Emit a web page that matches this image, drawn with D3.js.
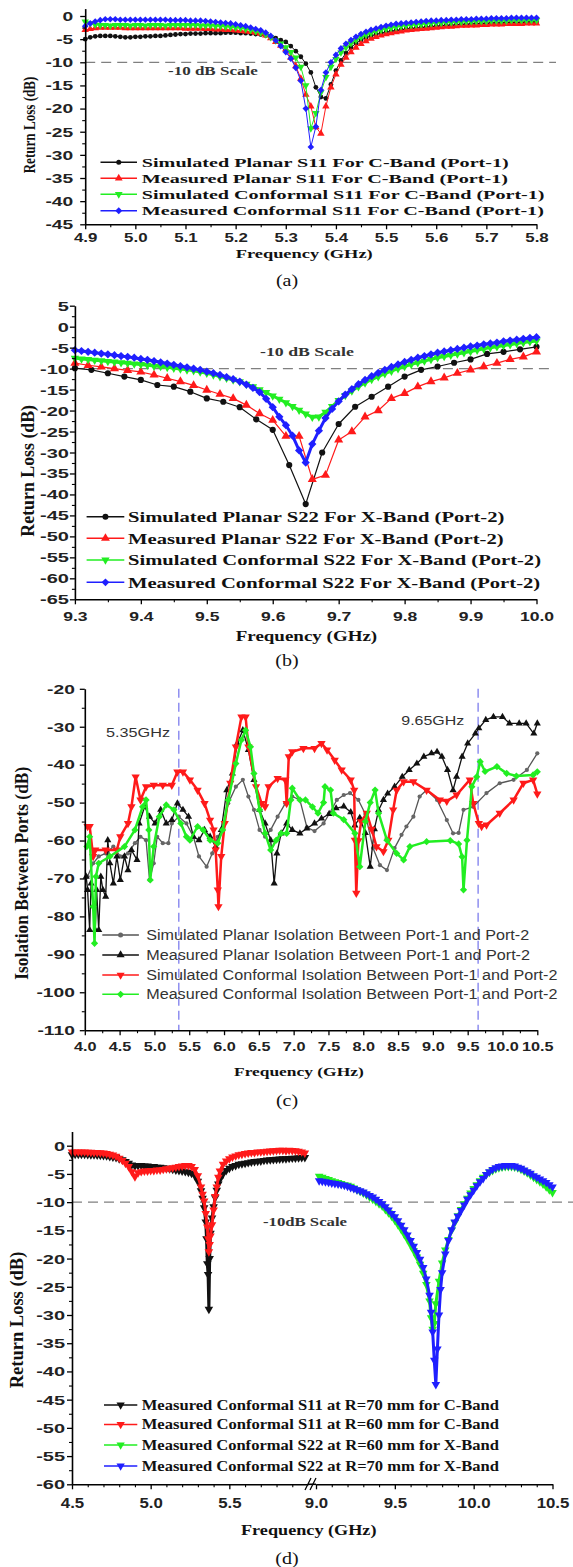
<!DOCTYPE html>
<html><head><meta charset="utf-8">
<script src="https://cdn.jsdelivr.net/npm/d3@7"></script>
<style>body{margin:0;background:#fff}</style>
</head><body>
<script>
// ---------------- DATA ----------------
// Panel (a): C-band S11, sweep 4.90..5.80 GHz step 0.01
const fA = d3.range(490, 581).map(v => v / 100);
const aSimPlanar = [-5.0,-4.6,-4.4,-4.3,-4.3,-4.3,-4.4,-4.5,-4.6,-4.6,
 -4.5,-4.5,-4.4,-4.4,-4.3,-4.3,-4.2,-4.1,-4.0,-3.9,
 -3.9,-3.8,-3.8,-3.8,-3.7,-3.7,-3.7,-3.7,-3.6,-3.6,
 -3.6,-3.7,-3.7,-3.8,-3.9,-4.0,-4.2,-4.5,-4.8,-5.2,
 -5.6,-6.5,-7.6,-8.8,-10.3,-12.2,-15.4,-17.5,-17.8,-14.8,
 -11.8,-9.6,-8.0,-6.8,-5.9,-5.2,-4.7,-4.3,-4.0,-3.7,
 -3.5,-3.3,-3.1,-3.0,-2.8,-2.7,-2.6,-2.5,-2.4,-2.3,
 -2.2,-2.1,-2.0,-2.0,-1.9,-1.8,-1.8,-1.7,-1.7,-1.6,
 -1.6,-1.5,-1.5,-1.5,-1.4,-1.4,-1.4,-1.4,-1.3,-1.3,-1.3];
const aMeasPlanar = [-3.0,-2.8,-2.6,-2.5,-2.5,-2.5,-2.5,-2.5,-2.6,-2.6,
 -2.6,-2.6,-2.6,-2.6,-2.6,-2.6,-2.6,-2.6,-2.6,-2.6,
 -2.7,-2.7,-2.7,-2.7,-2.8,-2.8,-2.9,-2.9,-3.0,-3.0,
 -3.1,-3.2,-3.3,-3.4,-3.6,-3.8,-4.2,-4.8,-5.6,-6.4,
 -7.2,-9.0,-10.8,-13.5,-17.0,-19.5,-24.0,-25.4,-19.5,-15.4,
 -12.6,-10.5,-9.0,-7.8,-6.8,-6.0,-5.4,-4.9,-4.5,-4.2,
 -3.9,-3.7,-3.5,-3.3,-3.1,-3.0,-2.9,-2.8,-2.7,-2.6,
 -2.5,-2.4,-2.3,-2.3,-2.2,-2.1,-2.1,-2.0,-2.0,-1.9,
 -1.9,-1.8,-1.8,-1.8,-1.7,-1.7,-1.7,-1.7,-1.6,-1.6,-1.6];
const aSimConf = [-1.2,-1.6,-1.9,-2.0,-2.0,-2.1,-2.0,-2.0,-2.0,-2.1,
 -2.0,-2.0,-2.1,-2.0,-2.0,-2.0,-2.1,-2.0,-2.0,-2.0,
 -2.0,-2.0,-2.0,-2.1,-2.1,-2.1,-2.2,-2.2,-2.3,-2.4,
 -2.5,-2.6,-2.8,-3.0,-3.3,-3.6,-4.0,-4.6,-5.3,-6.0,
 -6.8,-7.8,-9.0,-11.0,-15.0,-24.3,-21.0,-16.5,-13.2,-11.0,
 -9.3,-7.9,-6.8,-5.9,-5.2,-4.6,-4.1,-3.7,-3.3,-3.0,
 -2.8,-2.6,-2.4,-2.2,-2.1,-2.0,-1.9,-1.8,-1.7,-1.6,
 -1.5,-1.5,-1.4,-1.4,-1.3,-1.3,-1.2,-1.2,-1.1,-1.1,
 -1.1,-1.0,-1.0,-1.0,-1.0,-0.9,-0.9,-0.9,-0.9,-0.9,-0.9];
const aMeasConf = [-2.2,-1.6,-1.2,-0.9,-0.7,-0.7,-0.7,-0.8,-0.8,-0.8,
 -0.8,-0.8,-0.8,-0.8,-0.8,-0.8,-0.8,-0.9,-0.9,-0.9,
 -0.9,-1.0,-1.0,-1.0,-1.1,-1.2,-1.3,-1.4,-1.5,-1.6,
 -1.8,-2.0,-2.2,-2.5,-2.8,-3.1,-3.6,-4.3,-5.3,-6.5,
 -7.8,-9.2,-11.2,-14.0,-20.0,-28.3,-23.9,-16.0,-12.2,-10.0,
 -8.4,-7.0,-6.0,-5.2,-4.5,-3.9,-3.4,-3.0,-2.7,-2.4,
 -2.1,-1.9,-1.7,-1.6,-1.5,-1.4,-1.3,-1.2,-1.1,-1.0,
 -1.0,-0.9,-0.9,-0.8,-0.8,-0.7,-0.7,-0.7,-0.6,-0.6,
 -0.6,-0.5,-0.5,-0.5,-0.5,-0.4,-0.4,-0.4,-0.4,-0.4,-0.4];
const aLabels = ["Simulated Planar S11 For C-Band (Port-1)","Measured Planar S11 For C-Band (Port-1)",
 "Simulated Conformal S11 For C-Band (Port-1)","Measured Conformal S11 For C-Band (Port-1)"];

// Panel (b): X-band S22
const bSimPlanar = [[9.3,-9.9],[9.325,-10.3],[9.35,-11.1],[9.375,-11.9],[9.4,-12.7],[9.425,-13.9],[9.45,-14.3],[9.475,-15.5],
 [9.5,-17.1],[9.525,-17.9],[9.55,-19.2],[9.575,-22.1],[9.6,-24.6],[9.625,-33.0],[9.65,-42.3],[9.675,-30.0],[9.7,-23.2],
 [9.725,-19.1],[9.75,-16.7],[9.775,-14.3],[9.8,-11.9],[9.825,-10.3],[9.85,-9.5],[9.875,-8.6],[9.9,-7.8],[9.925,-6.5],
 [9.95,-6.0],[9.975,-5.4],[10.0,-4.8]];
const bMeasPlanar = [[9.30,-8.7],[9.32,-9.2],[9.34,-9.6],[9.36,-10.0],[9.38,-10.4],[9.40,-10.8],[9.42,-11.5],[9.44,-12.3],
 [9.46,-13.1],[9.48,-14.0],[9.50,-15.1],[9.52,-16.1],[9.54,-17.1],[9.56,-18.7],[9.58,-20.7],[9.60,-22.3],[9.62,-26.1],
 [9.64,-26.1],[9.66,-36.4],[9.68,-35.4],[9.70,-27.0],[9.72,-25.0],[9.74,-21.5],[9.76,-20.0],[9.78,-17.1],[9.80,-15.9],
 [9.82,-14.3],[9.84,-13.1],[9.86,-12.2],[9.88,-11.1],[9.90,-10.3],[9.92,-9.5],[9.94,-8.7],[9.96,-7.8],[9.98,-7.2],[10.00,-6.0]];
const fB = d3.range(930, 1001).map(v => v / 100);
const bSimConf = [-7.5,-7.7,-7.8,-8.0,-8.1,-8.3,-8.4,-8.6,-8.7,-8.9,
 -9.0,-9.2,-9.4,-9.5,-9.7,-9.9,-10.1,-10.3,-10.5,-10.8,
 -11.1,-11.5,-11.9,-12.3,-12.7,-13.1,-13.7,-14.3,-15.0,-15.7,
 -16.5,-17.3,-18.1,-19.0,-19.9,-20.8,-21.6,-21.5,-20.4,-19.0,
 -17.6,-16.4,-15.3,-14.3,-13.4,-12.6,-11.9,-11.2,-10.6,-10.0,
 -9.5,-9.0,-8.6,-8.2,-7.8,-7.4,-7.1,-6.8,-6.5,-6.2,
 -5.9,-5.6,-5.3,-5.0,-4.8,-4.5,-4.3,-4.0,-3.8,-3.6,-3.4];
const bMeasConf = [-5.6,-5.8,-6.0,-6.2,-6.4,-6.6,-6.8,-7.0,-7.2,-7.4,
 -7.7,-7.9,-8.2,-8.5,-8.8,-9.1,-9.4,-9.7,-10.0,-10.3,
 -10.7,-11.1,-11.5,-12.0,-12.5,-13.1,-13.8,-14.6,-15.6,-17.2,
 -19.2,-21.5,-23.5,-26.0,-29.5,-32.4,-28.0,-24.8,-21.8,-19.6,
 -17.8,-16.2,-14.9,-13.7,-12.7,-11.8,-11.0,-10.3,-9.6,-9.0,
 -8.4,-7.9,-7.4,-7.0,-6.6,-6.2,-5.9,-5.6,-5.3,-5.0,
 -4.7,-4.5,-4.2,-4.0,-3.8,-3.5,-3.3,-3.1,-2.9,-2.7,-2.5];
const bLabels = ["Simulated Planar S22 For X-Band (Port-2)","Measured Planar S22 For X-Band (Port-2)",
 "Simulated Conformal S22 For X-Band (Port-2)","Measured Conformal S22 For X-Band (Port-2)"];

// Panel (c): isolation
const cSimPlanar = [[4.04,-69.5],[4.12,-66.0],[4.20,-64.2],[4.30,-63.4],[4.41,-61.6],[4.51,-64.2],[4.62,-63.4],[4.72,-60.7],
 [4.80,-59.0],[4.88,-59.9],[4.93,-70.4],[4.99,-66.0],[5.04,-59.0],[5.12,-60.7],[5.20,-60.7],[5.25,-55.5],[5.35,-53.7],
 [5.46,-55.5],[5.56,-59.0],[5.64,-64.2],[5.75,-66.9],[5.83,-63.4],[5.91,-59.0],[5.98,-57.2],[6.06,-50.2],[6.17,-45.8],
 [6.27,-44.0],[6.35,-48.4],[6.43,-51.9],[6.51,-57.2],[6.59,-59.0],[6.67,-57.2],[6.77,-53.7],[6.88,-50.2],[6.98,-48.4],
 [7.09,-49.3],[7.19,-56.5],[7.30,-57.5],[7.43,-55.5],[7.51,-53.0],[7.62,-49.3],[7.72,-48.0],[7.81,-47.5],[7.93,-49.3],
 [8.03,-53.0],[8.14,-62.0],[8.24,-66.5],[8.34,-67.8],[8.45,-62.0],[8.55,-58.5],[8.62,-56.3],[8.72,-53.7],[8.81,-48.4],
 [8.91,-46.7],[9.06,-49.3],[9.20,-54.6],[9.29,-58.1],[9.37,-58.0],[9.44,-51.9],[9.58,-51.1],[9.77,-47.5],[9.96,-44.9],
 [10.16,-44.0],[10.35,-41.4],[10.50,-37.0]];
const cMeasPlanar = [[4.02,-69.5],[4.04,-73.0],[4.07,-83.6],[4.09,-71.3],[4.15,-83.6],[4.17,-73.0],[4.20,-83.6],[4.23,-69.5],
 [4.26,-73.0],[4.30,-74.8],[4.33,-59.9],[4.36,-66.0],[4.41,-71.3],[4.46,-64.2],[4.51,-70.4],[4.57,-64.2],[4.62,-67.8],
 [4.67,-62.5],[4.75,-65.1],[4.78,-55.5],[4.86,-51.1],[4.93,-53.7],[5.01,-55.5],[5.09,-51.9],[5.17,-55.5],[5.25,-54.6],
 [5.33,-50.2],[5.41,-51.9],[5.49,-53.7],[5.56,-59.0],[5.64,-59.9],[5.72,-57.2],[5.80,-59.0],[5.88,-61.6],[5.96,-57.2],
 [6.04,-46.7],[6.12,-42.3],[6.19,-34.4],[6.27,-30.9],[6.35,-36.1],[6.43,-44.0],[6.51,-51.9],[6.59,-55.5],[6.67,-59.9],
 [6.72,-71.3],[6.76,-63.4],[6.82,-58.1],[6.90,-55.5],[6.98,-57.2],[7.09,-58.1],[7.19,-56.8],[7.30,-55.5],[7.40,-54.2],
 [7.51,-53.0],[7.61,-51.5],[7.72,-51.0],[7.82,-52.5],[7.88,-56.0],[7.95,-54.0],[8.03,-58.0],[8.10,-66.9],[8.16,-57.0],
 [8.22,-52.0],[8.29,-49.3],[8.35,-47.6],[8.45,-45.8],[8.56,-43.2],[8.66,-41.4],[8.77,-39.7],[8.87,-37.9],[8.98,-37.0],
 [9.06,-36.6],[9.13,-37.9],[9.21,-41.4],[9.29,-46.7],[9.34,-43.2],[9.42,-37.9],[9.50,-34.4],[9.61,-31.8],[9.66,-30.4],
 [9.76,-28.2],[9.87,-27.4],[10.00,-27.4],[10.10,-29.1],[10.24,-29.1],[10.34,-29.1],[10.45,-31.8],[10.50,-29.1]];
const cSimConf = [[4.04,-56.3],[4.07,-56.3],[4.12,-64.2],[4.15,-62.5],[4.30,-62.5],[4.46,-62.5],[4.51,-59.0],[4.62,-55.5],
 [4.67,-51.1],[4.73,-43.2],[4.80,-49.3],[4.88,-45.8],[4.99,-45.4],[5.12,-45.4],[5.25,-45.4],[5.33,-41.9],[5.41,-41.9],
 [5.51,-44.0],[5.62,-46.7],[5.72,-50.2],[5.80,-54.6],[5.85,-57.2],[5.88,-62.5],[5.91,-73.0],[5.92,-77.4],[5.96,-64.2],
 [6.01,-55.5],[6.09,-44.9],[6.17,-35.3],[6.25,-27.4],[6.31,-27.4],[6.35,-35.3],[6.46,-45.8],[6.54,-50.2],[6.59,-51.1],
 [6.64,-45.8],[6.77,-43.6],[6.88,-44.0],[6.90,-50.2],[6.93,-37.9],[6.98,-36.6],[7.14,-35.7],[7.30,-35.7],[7.40,-34.4],
 [7.48,-36.1],[7.59,-38.8],[7.69,-41.4],[7.82,-44.0],[7.87,-46.7],[7.88,-59.9],[7.90,-73.9],[7.93,-60.0],[7.97,-55.0],
 [8.05,-52.8],[8.12,-57.0],[8.19,-61.6],[8.29,-62.9],[8.36,-59.9],[8.43,-51.9],[8.48,-46.7],[8.58,-44.5],[8.72,-44.5],
 [8.91,-46.7],[9.10,-49.3],[9.20,-49.6],[9.34,-48.0],[9.53,-44.0],[9.58,-50.2],[9.66,-55.5],[9.70,-56.3],[9.77,-55.9],
 [9.96,-52.8],[10.16,-49.3],[10.30,-44.9],[10.44,-44.0],[10.50,-47.7]];
const cMeasConf = [[4.03,-61.6],[4.07,-59.0],[4.12,-77.4],[4.14,-87.1],[4.16,-69.5],[4.20,-66.0],[4.36,-64.2],[4.57,-61.6],
 [4.72,-57.2],[4.83,-51.1],[4.88,-49.3],[4.92,-57.2],[4.94,-70.4],[4.99,-61.6],[5.07,-53.7],[5.17,-50.6],[5.28,-51.9],
 [5.38,-55.5],[5.46,-59.0],[5.51,-59.9],[5.62,-56.3],[5.70,-57.2],[5.80,-59.9],[5.91,-60.7],[5.98,-57.2],[6.06,-49.3],
 [6.17,-39.7],[6.25,-33.5],[6.31,-30.9],[6.38,-35.3],[6.43,-42.3],[6.51,-51.9],[6.59,-58.1],[6.67,-62.5],[6.75,-59.9],
 [6.82,-58.1],[6.90,-58.1],[6.96,-49.3],[6.98,-46.2],[7.09,-49.3],[7.17,-49.3],[7.27,-51.1],[7.35,-52.8],[7.43,-50.0],
 [7.45,-45.8],[7.53,-46.7],[7.57,-52.8],[7.72,-54.5],[7.88,-58.1],[7.95,-66.9],[8.03,-55.0],[8.10,-50.0],[8.17,-46.7],
 [8.22,-52.8],[8.34,-59.9],[8.48,-63.4],[8.58,-65.1],[8.67,-61.6],[8.91,-60.3],[9.25,-60.0],[9.37,-60.9],[9.42,-64.3],
 [9.44,-73.0],[9.49,-59.9],[9.56,-45.8],[9.63,-43.2],[9.68,-39.2],[9.75,-41.8],[9.92,-40.5],[10.06,-42.3],[10.20,-43.0],
 [10.44,-42.7],[10.50,-41.9]];
const cLabels = ["Simulated Planar Isolation Between Port-1 and Port-2","Measured Planar Isolation Between Port-1 and Port-2",
 "Simulated Conformal Isolation Between Port-1 and Port-2","Measured Conformal Isolation Between Port-1 and Port-2"];
const cMarkers = [5.35, 9.65];

// Panel (d): radius study
const dS11R70 = [[4.50,-1.6],[4.52,-1.5],[4.54,-1.5],[4.56,-1.5],[4.58,-1.5],[4.60,-1.55],[4.62,-1.6],[4.64,-1.6],[4.66,-1.65],
 [4.68,-1.7],[4.70,-1.75],[4.72,-1.8],[4.74,-1.9],[4.76,-2.0],[4.78,-2.1],[4.80,-2.3],[4.82,-2.5],[4.84,-2.8],[4.86,-3.1],
 [4.88,-3.4],[4.90,-3.6],[4.92,-3.5],[4.94,-3.5],[4.96,-3.6],[4.98,-3.6],[5.00,-3.7],[5.02,-3.7],[5.04,-3.8],[5.06,-3.8],
 [5.08,-3.9],[5.10,-4.0],[5.12,-4.1],[5.14,-4.2],[5.16,-4.3],[5.18,-4.4],[5.20,-4.5],[5.22,-4.6],[5.24,-4.7],[5.26,-4.9],
 [5.28,-5.3],[5.30,-6.3],[5.32,-8.0],[5.33,-9.3],[5.34,-11.0],[5.35,-13.5],[5.355,-16.5],[5.36,-20.9],[5.365,-22.8],
 [5.37,-29.0],[5.375,-20.0],[5.38,-15.5],[5.39,-12.8],[5.40,-10.8],[5.41,-9.2],[5.42,-7.9],[5.43,-6.8],[5.44,-6.0],
 [5.46,-5.0],[5.48,-4.4],[5.50,-4.0],[5.52,-3.7],[5.54,-3.5],[5.56,-3.3],[5.58,-3.2],[5.60,-3.1],[5.62,-3.0],[5.64,-2.9],
 [5.66,-2.8],[5.68,-2.75],[5.70,-2.7],[5.72,-2.6],[5.74,-2.55],[5.76,-2.5],[5.78,-2.45],[5.80,-2.4],[5.82,-2.35],
 [5.84,-2.3],[5.86,-2.3],[5.88,-2.25],[5.90,-2.2],[5.92,-2.2],[5.94,-2.15],[5.96,-2.1],[5.98,-2.1]];
const dS11R60 = [[4.50,-1.1],[4.52,-1.1],[4.54,-1.1],[4.56,-1.1],[4.58,-1.1],[4.60,-1.15],[4.62,-1.15],[4.64,-1.2],[4.66,-1.2],
 [4.68,-1.25],[4.70,-1.3],[4.72,-1.4],[4.74,-1.5],[4.76,-1.65],[4.78,-1.85],[4.80,-2.2],[4.82,-2.6],[4.84,-3.1],[4.86,-3.7],
 [4.88,-4.6],[4.90,-5.5],[4.92,-4.8],[4.94,-4.6],[4.96,-4.5],[4.98,-4.5],[5.00,-4.4],[5.02,-4.4],[5.04,-4.3],[5.06,-4.3],
 [5.08,-4.2],[5.10,-4.1],[5.12,-4.0],[5.14,-3.9],[5.16,-3.8],[5.18,-3.7],[5.20,-3.6],[5.22,-3.5],[5.24,-3.5],[5.26,-3.7],
 [5.28,-4.2],[5.30,-5.3],[5.32,-7.3],[5.33,-8.6],[5.34,-9.8],[5.35,-12.0],[5.36,-14.4],[5.365,-16.5],[5.37,-18.8],
 [5.375,-17.5],[5.38,-16.0],[5.39,-14.0],[5.40,-11.4],[5.41,-9.0],[5.42,-7.3],[5.43,-5.6],[5.44,-4.5],[5.46,-3.3],
 [5.48,-2.7],[5.50,-2.3],[5.52,-2.0],[5.54,-1.8],[5.56,-1.6],[5.58,-1.5],[5.60,-1.4],[5.62,-1.3],[5.64,-1.2],[5.66,-1.2],
 [5.68,-1.1],[5.70,-1.1],[5.72,-1.05],[5.74,-1.0],[5.76,-0.95],[5.78,-0.9],[5.80,-0.85],[5.82,-0.8],[5.84,-0.8],
 [5.86,-0.9],[5.88,-0.8],[5.90,-0.85],[5.92,-0.9],[5.94,-1.0],[5.96,-1.1],[5.98,-1.3]];
const dS22R60 = [[9.02,-5.4],[9.04,-5.6],[9.06,-5.8],[9.08,-6.0],[9.10,-6.2],[9.12,-6.4],[9.14,-6.5],[9.16,-6.7],[9.18,-6.9],
 [9.20,-7.0],[9.22,-7.2],[9.24,-7.5],[9.26,-7.8],[9.28,-8.1],[9.30,-8.4],[9.32,-8.7],[9.34,-9.1],[9.36,-9.5],[9.38,-9.9],
 [9.40,-10.3],[9.42,-10.7],[9.44,-11.3],[9.46,-11.9],[9.48,-12.5],[9.50,-13.2],[9.52,-14.0],[9.54,-14.8],[9.56,-15.7],
 [9.58,-16.6],[9.60,-17.6],[9.62,-18.6],[9.64,-19.7],[9.66,-21.0],[9.68,-22.6],[9.70,-24.6],[9.72,-27.5],[9.73,-30.5],
 [9.74,-32.5],[9.75,-31.5],[9.76,-28.0],[9.78,-24.0],[9.80,-20.8],[9.82,-18.5],[9.84,-16.6],[9.86,-15.0],[9.88,-13.6],
 [9.90,-12.4],[9.92,-11.3],[9.94,-10.3],[9.96,-9.3],[9.98,-8.4],[10.00,-7.6],[10.02,-6.9],[10.04,-6.2],[10.06,-5.6],
 [10.08,-5.1],[10.10,-4.7],[10.12,-4.4],[10.14,-4.1],[10.16,-3.9],[10.18,-3.8],[10.20,-3.7],[10.22,-3.7],[10.24,-3.7],
 [10.26,-3.8],[10.28,-3.9],[10.30,-4.2],[10.32,-4.5],[10.34,-4.8],[10.36,-5.2],[10.38,-5.6],[10.40,-6.0],[10.42,-6.4],
 [10.44,-6.8],[10.46,-7.3],[10.48,-7.8],[10.50,-8.3]];
const dS22R70 = [[9.02,-6.2],[9.04,-6.3],[9.06,-6.4],[9.08,-6.5],[9.10,-6.6],[9.12,-6.7],[9.14,-6.8],[9.16,-6.9],[9.18,-7.0],
 [9.20,-7.2],[9.22,-7.4],[9.24,-7.6],[9.26,-7.8],[9.28,-8.0],[9.30,-8.2],[9.32,-8.5],[9.34,-8.8],[9.36,-9.1],[9.38,-9.5],
 [9.40,-9.9],[9.42,-10.3],[9.44,-10.8],[9.46,-11.4],[9.48,-12.0],[9.50,-12.6],[9.52,-13.3],[9.54,-14.1],[9.56,-14.9],
 [9.58,-15.8],[9.60,-16.8],[9.62,-17.8],[9.64,-18.9],[9.66,-20.1],[9.68,-21.6],[9.70,-23.6],[9.72,-26.5],[9.73,-29.5],
 [9.74,-33.0],[9.75,-38.0],[9.76,-42.3],[9.77,-36.0],[9.78,-30.0],[9.79,-25.5],[9.80,-22.5],[9.82,-19.2],[9.84,-16.8],
 [9.86,-14.9],[9.88,-13.5],[9.90,-12.5],[9.92,-11.5],[9.94,-10.5],[9.96,-9.5],[9.98,-8.7],[10.00,-7.9],[10.02,-7.1],
 [10.04,-6.4],[10.06,-5.8],[10.08,-5.1],[10.10,-4.6],[10.12,-4.2],[10.14,-3.9],[10.16,-3.7],[10.18,-3.6],[10.20,-3.5],
 [10.22,-3.5],[10.24,-3.5],[10.26,-3.6],[10.28,-3.8],[10.30,-4.0],[10.32,-4.3],[10.34,-4.6],[10.36,-4.9],[10.38,-5.3],
 [10.40,-5.6],[10.42,-5.9],[10.44,-6.2],[10.46,-6.5],[10.48,-6.9],[10.50,-7.3]];
const dLabels = ["Measured Conformal S11 at R=70 mm for C-Band","Measured Conformal S11 at R=60 mm for C-Band",
 "Measured Conformal S22 at R=60 mm for X-Band","Measured Conformal S22 at R=70 mm for X-Band"];

// ---------------- DRAWING ----------------
const W = 573, H = 1567;
const SANS = "'Liberation Sans', Arial, sans-serif";
const SERIF = "'Liberation Serif', 'Times New Roman', serif";
const svg = d3.select("body").append("svg").attr("width", W).attr("height", H).style("display", "block");
svg.append("rect").attr("width", W).attr("height", H).attr("fill", "#fff");

function yScale(v0, p0, v1, p1, top) {
  const s = d3.scaleLinear().domain([v0, v1]).range([p0, p1]);
  return s.copy().domain([top, v1]).range([s(top), p1]);
}
function leftAxis(y, x0, major, minor, gap, fs, sx) {
  svg.append("g").attr("transform", `translate(${x0},0)`)
    .call(d3.axisLeft(y).tickValues(minor).tickSize(3).tickFormat(""))
    .call(g => g.select(".domain").remove())
    .selectAll("line").attr("stroke", "#000").attr("stroke-width", 1.1);
  const g = svg.append("g").attr("transform", `translate(${x0},0)`)
    .call(d3.axisLeft(y).tickValues(major).tickSize(5).tickSizeOuter(0).tickFormat(d => String(d)));
  g.select(".domain").attr("stroke", "#000").attr("stroke-width", 1.6);
  g.selectAll(".tick line").attr("stroke", "#000").attr("stroke-width", 1.3);
  g.selectAll(".tick text").attr("x", -gap / sx).attr("dy", "0.36em").attr("transform", `scale(${sx},1)`)
    .attr("font-family", SANS).attr("font-weight", "bold").attr("font-size", fs).attr("fill", "#222");
}
function bottomAxis(x, y0, major, minor, gap, fs, sx) {
  svg.append("g").attr("transform", `translate(0,${y0})`)
    .call(d3.axisBottom(x).tickValues(minor).tickSize(3).tickFormat(""))
    .call(g => g.select(".domain").remove())
    .selectAll("line").attr("stroke", "#000").attr("stroke-width", 1.1);
  const g = svg.append("g").attr("transform", `translate(0,${y0})`)
    .call(d3.axisBottom(x).tickValues(major).tickSize(5).tickSizeOuter(0).tickFormat(d3.format(".1f")));
  g.select(".domain").attr("stroke", "#000").attr("stroke-width", 1.6);
  g.selectAll(".tick line").attr("stroke", "#000").attr("stroke-width", 1.3);
  g.selectAll(".tick text").attr("y", gap).attr("dy", "0.71em").attr("transform", `scale(${sx},1)`)
    .attr("font-family", SANS).attr("font-weight", "bold").attr("font-size", fs).attr("fill", "#222");
}
function sym(type, size) {
  const t = type === "circle" ? d3.symbolCircle : (type === "up" || type === "down") ? d3.symbolTriangle : d3.symbolSquare;
  return d3.symbol().type(t).size(size)();
}
function rot(type) { return type === "down" ? " rotate(180)" : type === "diamond" ? " rotate(45)" : ""; }
function drawSeries(data, x, y, o) {
  const g = svg.append("g");
  g.append("path").datum(data).attr("fill", "none").attr("stroke", o.line || o.color).attr("stroke-width", o.lw)
    .attr("stroke-linejoin", "round").attr("d", d3.line().x(d => x(d[0])).y(d => y(d[1])));
  g.selectAll("path.m").data(data).join("path").attr("class", "m").attr("d", sym(o.sym, o.size))
    .attr("transform", d => `translate(${x(d[0])},${y(d[1])})${rot(o.sym)}`).attr("fill", o.color);
}
function txt(s, x, y, o) {
  const t = svg.append("text").text(s).attr("font-family", o.ff || SERIF).attr("font-weight", o.fw || "bold")
    .attr("font-size", o.fs).attr("fill", o.fill || "#111").attr("text-anchor", o.anchor || "start").attr("dy", "0.35em");
  t.attr("transform", `translate(${x},${y}) scale(${o.sx || 1},1)` + (o.rot ? " rotate(-90)" : ""));
  if (o.len) t.attr("textLength", o.len).attr("lengthAdjust", "spacingAndGlyphs");
  return t;
}
function legend(items, rows, lx1, lx2, tx, ends, o) {
  items.forEach((it, i) => {
    const yy = rows[i];
    svg.append("line").attr("x1", lx1).attr("x2", lx2).attr("y1", yy).attr("y2", yy)
      .attr("stroke", it.line || it.color).attr("stroke-width", 1.6);
    svg.append("path").attr("d", sym(it.sym, it.size))
      .attr("transform", `translate(${(lx1 + lx2) / 2},${yy})${rot(it.sym)}`).attr("fill", it.color);
    txt(it.label, tx, yy, { fs: o.fs, ff: o.ff, fw: o.fw, len: ends[i] - tx, fill: o.fill || "#111" });
  });
}
function hDash(x1, x2, y) {
  svg.append("line").attr("x1", x1).attr("x2", x2).attr("y1", y).attr("y2", y)
    .attr("stroke", "#808080").attr("stroke-width", 1.3).attr("stroke-dasharray", "10,6");
}
const zipF = (f, v) => f.map((d, i) => [d, v[i]]);
const RED = "#ff1a1a", GREEN = "#22ee22", BLUE = "#1f1fff", BLACK = "#111";
const YSX = 1.6, XSX = 1.3;

// ===== Panel (a) =====
{
  const x = d3.scaleLinear().domain([4.9, 5.8]).range([85.2, 536.5]);
  const y = yScale(0, 16, -45, 224.3, 1.6);
  hDash(85.2, 556, y(-10));
  drawSeries(zipF(fA, aSimPlanar), x, y, { color: BLACK, sym: "circle", size: 18, lw: 1 });
  drawSeries(zipF(fA, aMeasPlanar), x, y, { color: RED, sym: "up", size: 24, lw: 1 });
  drawSeries(zipF(fA, aSimConf), x, y, { color: GREEN, sym: "down", size: 24, lw: 1 });
  drawSeries(zipF(fA, aMeasConf), x, y, { color: BLUE, sym: "diamond", size: 22, lw: 1 });
  leftAxis(y, 85.2, d3.range(0, -46, -5), d3.range(-2.5, -45, -5), 12, 12, YSX);
  bottomAxis(x, 224.3, d3.range(49, 59).map(v => v / 10), d3.range(495, 580, 10).map(v => v / 100), 8, 13, XSX);
  txt("-10 dB Scale", 168, 71, { fs: 12.5, len: 89.7, fill: "#333" });
  legend([{ label: aLabels[0], color: BLACK, sym: "circle", size: 20 }, { label: aLabels[1], color: RED, sym: "up", size: 26 },
          { label: aLabels[2], color: GREEN, sym: "down", size: 26 }, { label: aLabels[3], color: BLUE, sym: "diamond", size: 24 }],
         [162.3, 178.3, 194.3, 210.7], 100.5, 137, 141.8, [508.8, 508, 544.6, 543.9], { fs: 12.5 });
  txt("Frequency (GHz)", 235.7, 253.3, { fs: 13, len: 137 });
  txt("Return Loss (dB)", 29, 125, { fs: 13, len: 96.7, anchor: "middle", rot: true, sx: 1.3 });
  txt("(a)", 287, 280, { fs: 16, fw: "normal", anchor: "middle", sx: 1.25 });
}

// ===== Panel (b) =====
{
  const x = d3.scaleLinear().domain([9.3, 10.0]).range([74.9, 536.5]);
  const y = yScale(5, 305.7, -65, 599.3, 5);
  hDash(74.9, 552, y(-10));
  drawSeries(bSimPlanar, x, y, { color: BLACK, sym: "circle", size: 30, lw: 1.2 });
  drawSeries(bMeasPlanar, x, y, { color: RED, sym: "up", size: 36, lw: 1.2 });
  drawSeries(zipF(fB, bSimConf), x, y, { color: GREEN, sym: "down", size: 30, lw: 3 });
  drawSeries(zipF(fB, bMeasConf), x, y, { color: BLUE, sym: "diamond", size: 34, lw: 3 });
  leftAxis(y, 74.9, d3.range(5, -66, -5), d3.range(2.5, -65, -5), 6, 12.5, YSX);
  bottomAxis(x, 599.3, d3.range(93, 101).map(v => v / 10), d3.range(935, 1000, 10).map(v => v / 100), 12, 13.5, XSX);
  txt("-10 dB Scale", 260, 351.7, { fs: 13.5, len: 93.8, fill: "#333" });
  legend([{ label: bLabels[0], color: BLACK, sym: "circle", size: 28 }, { label: bLabels[1], color: RED, sym: "up", size: 34 },
          { label: bLabels[2], color: GREEN, sym: "down", size: 30 }, { label: bLabels[3], color: BLUE, sym: "diamond", size: 30 }],
         [516.7, 538.3, 560, 582.3], 86.6, 124.3, 128, [504.4, 503.6, 541, 540.2], { fs: 15 });
  txt("Frequency (GHz)", 235.7, 636, { fs: 14, len: 141.5 });
  txt("Return Loss (dB)", 27.4, 470.8, { fs: 14, len: 131.7, anchor: "middle", rot: true, sx: 1.3 });
  txt("(b)", 287, 660.7, { fs: 16, fw: "normal", anchor: "middle", sx: 1.25 });
}

// ===== Panel (c) =====
{
  const x = d3.scaleLinear().domain([4.0, 10.5]).range([84.8, 537.3]);
  const y = yScale(-20, 688.8, -110, 1030.2, -20);
  cMarkers.forEach(f => svg.append("line").attr("x1", x(f)).attr("x2", x(f)).attr("y1", y(-20)).attr("y2", y(-110))
    .attr("stroke", "#8f8ff0").attr("stroke-width", 1.5).attr("stroke-dasharray", "9,5"));
  drawSeries(cSimPlanar, x, y, { color: "#666", line: "#555", sym: "circle", size: 14, lw: 1.3 });
  drawSeries(cMeasPlanar, x, y, { color: BLACK, sym: "up", size: 22, lw: 1.3 });
  drawSeries(cSimConf, x, y, { color: RED, sym: "down", size: 30, lw: 2.5 });
  drawSeries(cMeasConf, x, y, { color: GREEN, sym: "diamond", size: 26, lw: 2.5 });
  leftAxis(y, 84.8, d3.range(-20, -111, -10), d3.range(-25, -110, -10), 10, 12, YSX);
  bottomAxis(x, 1030.2, d3.range(40, 106, 5).map(v => v / 10), d3.range(425, 1050, 50).map(v => v / 100), 12, 12.5, XSX);
  txt("5.35GHz", 106, 732.7, { ff: SANS, fw: "normal", fs: 13, len: 64, fill: "#333" });
  txt("9.65GHz", 401.3, 720.7, { ff: SANS, fw: "normal", fs: 13, len: 63, fill: "#333" });
  legend([{ label: cLabels[0], color: "#666", line: "#555", sym: "circle", size: 20 }, { label: cLabels[1], color: BLACK, sym: "up", size: 28 },
          { label: cLabels[2], color: RED, sym: "down", size: 28 }, { label: cLabels[3], color: GREEN, sym: "diamond", size: 26 }],
         [935, 955, 975, 994.3], 102.3, 138.9, 146.2, [529.2, 530, 557.4, 557.4], { fs: 14, ff: SANS, fw: "normal", fill: "#333" });
  txt("Frequency (GHz)", 234, 1071, { fs: 13.5, len: 129.7 });
  txt("Isolation Between Ports (dB)", 22, 873.3, { fs: 14, len: 213, anchor: "middle", rot: true, sx: 1.3 });
  txt("(c)", 287, 1100, { fs: 16, fw: "normal", anchor: "middle", sx: 1.25 });
}

// ===== Panel (d) =====
{
  const xL = d3.scaleLinear().domain([4.5, 6.0]).range([72, 308]);
  const xR = d3.scaleLinear().domain([9.0, 10.5]).range([316, 552.5]);
  const y = yScale(0, 1145.7, -60, 1484.3, 2.5);
  hDash(72, 573, y(-10));
  drawSeries(dS11R70, xL, y, { color: BLACK, sym: "down", size: 32, lw: 3 });
  drawSeries(dS11R60, xL, y, { color: RED, sym: "down", size: 32, lw: 3 });
  drawSeries(dS22R60, xR, y, { color: GREEN, sym: "down", size: 32, lw: 3 });
  drawSeries(dS22R70, xR, y, { color: BLUE, sym: "down", size: 32, lw: 3 });
  leftAxis(y, 72, d3.range(0, -61, -5), d3.range(-2.5, -60, -5), 7, 12.5, YSX);
  bottomAxis(xL, 1484.3, [4.5, 5.0, 5.5], [4.6, 4.7, 4.8, 4.9, 5.1, 5.2, 5.3, 5.4, 5.6, 5.7, 5.8, 5.9], 14, 14, 1.2);
  bottomAxis(xR, 1484.3, [9.0, 9.5, 10.0, 10.5], [9.1, 9.2, 9.3, 9.4, 9.6, 9.7, 9.8, 9.9, 10.1, 10.2, 10.3, 10.4], 14, 14, 1.2);
  svg.append("line").attr("x1", 308).attr("x2", 316).attr("y1", 1484.3).attr("y2", 1484.3).attr("stroke", "#000").attr("stroke-width", 1.6);
  [[305, 1490, 311, 1478], [310, 1490, 316, 1478]].forEach(p => svg.append("line")
    .attr("x1", p[0]).attr("y1", p[1]).attr("x2", p[2]).attr("y2", p[3]).attr("stroke", "#000").attr("stroke-width", 1.3));
  txt("-10dB Scale", 263, 1221.5, { fs: 13, len: 84, fill: "#333" });
  legend([{ label: dLabels[0], color: BLACK, sym: "down", size: 30 }, { label: dLabels[1], color: RED, sym: "down", size: 30 },
          { label: dLabels[2], color: GREEN, sym: "down", size: 30 }, { label: dLabels[3], color: BLUE, sym: "down", size: 30 }],
         [1405, 1424.5, 1445, 1466], 104, 137.3, 141.7, [499, 499, 499, 499], { fs: 14 });
  txt("Frequency (GHz)", 241, 1530, { fs: 15, len: 135.5 });
  txt("Return Loss (dB)", 16.4, 1320, { fs: 14, len: 136.7, anchor: "middle", rot: true, sx: 1.3 });
  txt("(d)", 287, 1558.3, { fs: 16, fw: "normal", anchor: "middle", sx: 1.25 });
}
</script>
</body></html>
